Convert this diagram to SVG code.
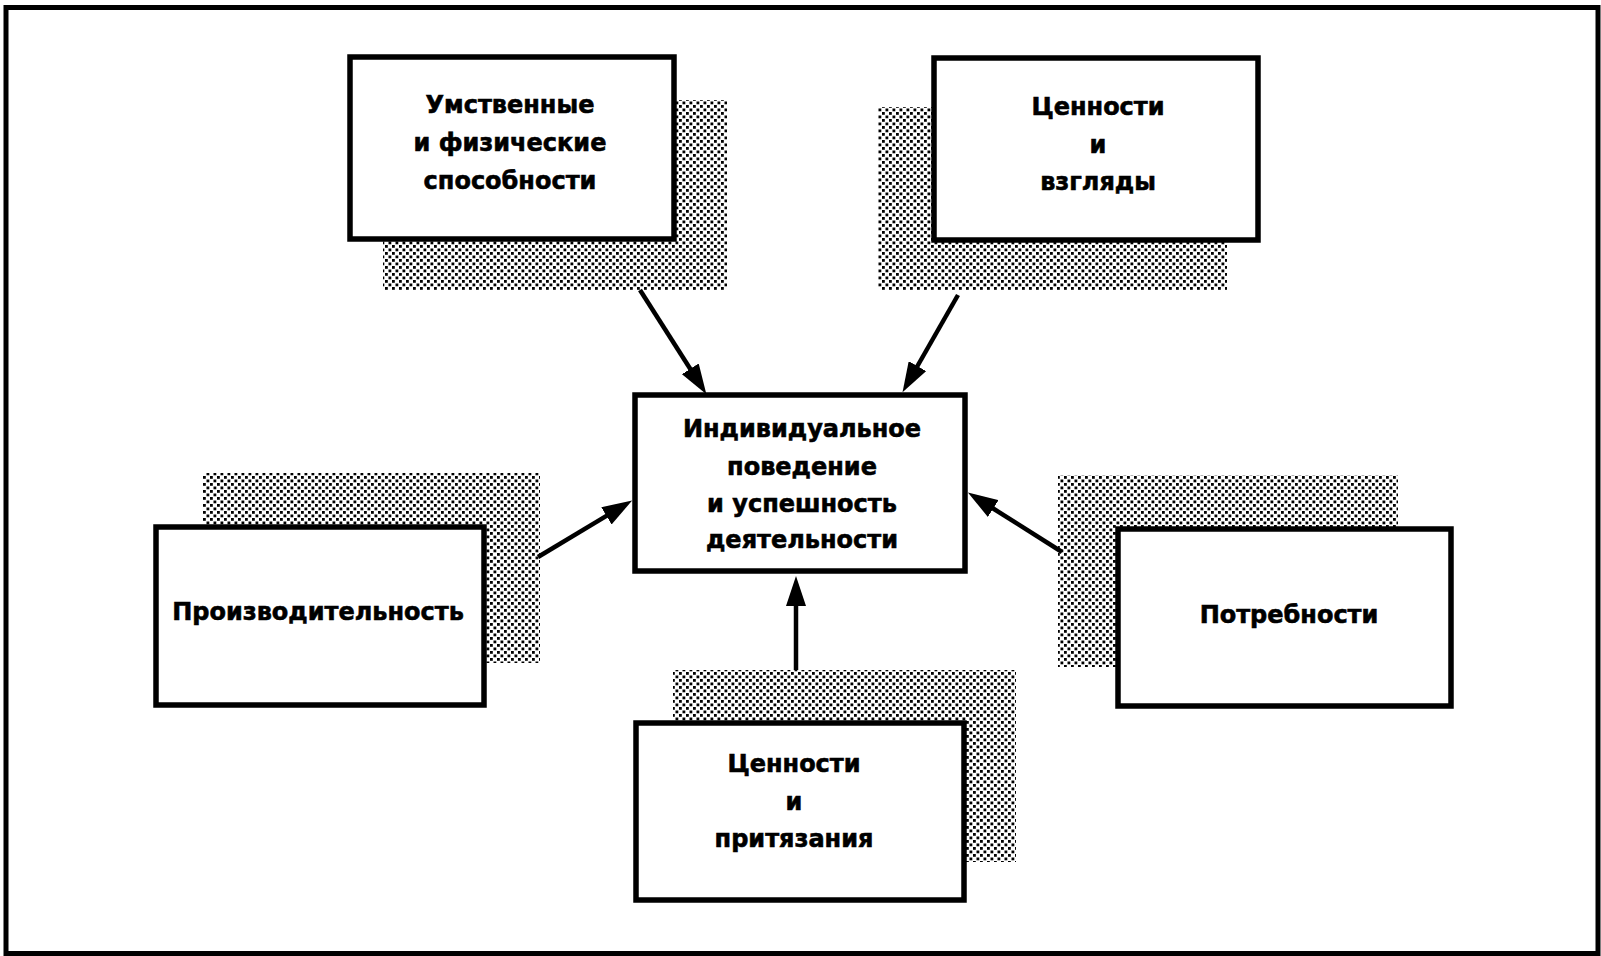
<svg xmlns="http://www.w3.org/2000/svg" width="1601" height="956" viewBox="0 0 1601 956">
<style>
.frame{fill:none;stroke:#000;stroke-width:5}
.box{fill:#fff;stroke:#000;stroke-width:5.5}
.shadow{fill:url(#dots)}
.lbl{font-family:"DejaVu Sans","Liberation Sans",sans-serif;font-weight:bold;font-size:24px;text-anchor:middle;fill:#000;stroke:#000;stroke-width:0.6}
.conn{stroke:#000;stroke-width:4.5;fill:none}
</style>
<defs>
<pattern id="dots" x="0" y="0" width="7" height="7" patternUnits="userSpaceOnUse">
<rect x="0" y="0" width="2.8" height="2.8" fill="#000"/>
<rect x="3.5" y="3.5" width="2.8" height="2.8" fill="#000"/>
</pattern>
<marker id="head" viewBox="0 0 30 20" refX="1" refY="10" markerWidth="30" markerHeight="20" markerUnits="userSpaceOnUse" orient="auto">
<path d="M0,0 L30,10 L0,20 z" fill="#000"/>
</marker>
</defs>
<rect width="1601" height="956" fill="#fff"/>
<rect class="frame" x="6" y="7.5" width="1592" height="946"/>

<g id="node-abilities">
<rect class="shadow" x="383" y="100" width="344" height="190"/>
<rect class="box" x="350" y="57" width="324" height="182"/>
<text class="lbl" x="510" y="113">Умственные</text>
<text class="lbl" x="510" y="151">и физические</text>
<text class="lbl" x="510" y="189">способности</text>
</g>

<g id="node-values-views">
<rect class="shadow" x="878" y="107" width="349" height="183"/>
<rect class="box" x="934" y="58" width="324" height="182"/>
<text class="lbl" x="1098" y="115">Ценности</text>
<text class="lbl" x="1098" y="153">и</text>
<text class="lbl" x="1098" y="190">взгляды</text>
</g>

<g id="node-productivity">
<rect class="shadow" x="203" y="473" width="337" height="190"/>
<rect class="box" x="156" y="527" width="328" height="178"/>
<text class="lbl" x="318" y="620">Производительность</text>
</g>

<g id="node-needs">
<rect class="shadow" x="1058" y="475" width="340" height="192"/>
<rect class="box" x="1118" y="529" width="333" height="177"/>
<text class="lbl" x="1289" y="623">Потребности</text>
</g>

<g id="node-values-claims">
<rect class="shadow" x="673" y="670" width="343" height="192"/>
<rect class="box" x="636" y="723" width="328" height="177"/>
<text class="lbl" x="794" y="772">Ценности</text>
<text class="lbl" x="794" y="810">и</text>
<text class="lbl" x="794" y="847">притязания</text>
</g>

<g id="node-behavior">
<rect class="box" x="635" y="395" width="330" height="176"/>
<text class="lbl" x="802" y="437">Индивидуальное</text>
<text class="lbl" x="802" y="475">поведение</text>
<text class="lbl" x="802" y="512">и успешность</text>
<text class="lbl" x="802" y="548">деятельности</text>
</g>

<g id="connectors">
<line class="conn" x1="640" y1="290" x2="690.8" y2="369.7" marker-end="url(#head)"/>
<line class="conn" x1="958" y1="295" x2="916.9" y2="367" marker-end="url(#head)"/>
<line class="conn" x1="538" y1="557" x2="607.3" y2="515.4" marker-end="url(#head)"/>
<line class="conn" x1="1062" y1="552" x2="992.4" y2="508" marker-end="url(#head)"/>
<line class="conn" x1="796" y1="670" x2="796" y2="605" marker-end="url(#head)"/>
</g>
</svg>
